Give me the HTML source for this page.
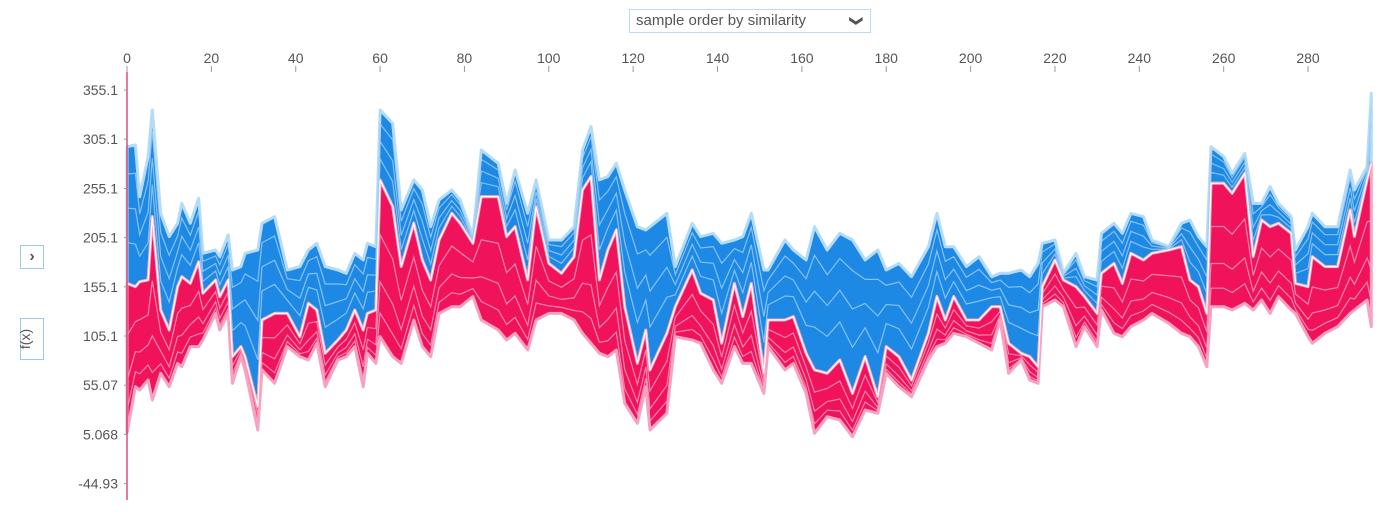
<!DOCTYPE html>
<html><head><meta charset="utf-8">
<style>
body{margin:0;background:#fff;font-family:"Liberation Sans",sans-serif;}
#wrap{position:relative;width:1400px;height:523px;overflow:hidden;}
#dd{position:absolute;left:629px;top:9px;width:242px;height:24px;border:1px solid #b9dcf2;box-sizing:border-box;font-size:15px;color:#555;line-height:22px;padding-left:6px;}
#dd span.ch{position:absolute;right:8px;top:0;font-size:13px;color:#555;transform:rotate(90deg);font-weight:bold;}
#expand{position:absolute;left:20px;top:245px;width:24px;height:24px;border:1px solid #9ecae1;box-sizing:border-box;color:#555;font-size:16px;text-align:center;line-height:22px;font-weight:bold;}
#fx{position:absolute;left:20px;top:318px;width:24px;height:42px;border:1px solid #9ecae1;box-sizing:border-box;}
#fx span{position:absolute;left:-6px;top:12px;transform:rotate(-90deg);font-size:14px;color:#555;}
svg{position:absolute;left:0;top:0;}
</style></head><body>
<div id="wrap">
<div id="dd">sample order by similarity<span class="ch">&#10095;</span></div>
<div id="expand">&#8250;</div>
<div id="fx"><span>f(x)</span></div>
<svg id="chart" width="1400" height="523"></svg>
</div>
<script>
const sampleIdx=[0,2,3,5,6,8,10,12,13,15,17,18,21,22,24,25,27,28,31,32,35,38,41,43,45,47,50,52,54,56,57,59,60,63,65,68,70,72,74,77,79,82,84,88,90,92,95,97,100,103,106,108,110,112,114,116,118,121,123,124,128,130,134,136,139,141,144,146,148,151,152,156,158,161,163,166,169,172,175,178,180,183,186,190,192,194,196,199,202,205,207,209,212,214,216,217,220,222,225,227,230,231,234,236,238,241,243,247,250,252,254,256,257,260,262,265,267,269,271,273,276,277,280,281,284,287,290,291,294,295];
const topVals=[297.5,299.2,246.7,287.4,334.8,229.8,206.1,219.6,239.9,219.6,245.0,189.1,192.5,185.7,207.8,172.2,175.6,189.1,192.5,219.6,226.4,172.2,175.6,192.5,199.3,175.6,172.2,168.8,189.1,182.3,199.3,195.9,334.8,321.3,233.2,263.7,253.5,216.2,243.3,253.5,243.3,206.1,294.1,280.6,239.9,273.8,229.8,263.7,202.7,202.7,216.2,294.1,317.9,263.7,267.1,280.6,253.5,216.2,212.8,216.2,229.8,175.6,219.6,206.1,209.5,199.3,202.7,206.1,229.8,172.2,172.2,202.7,192.5,182.3,216.2,192.5,209.5,202.7,182.3,192.5,172.2,178.9,165.4,195.9,229.8,195.9,195.9,175.6,185.7,165.4,168.8,168.8,172.2,165.4,178.9,199.3,202.7,168.8,189.1,165.4,162,209.5,219.6,209.5,229.8,226.4,202.7,195.9,219.6,223.0,206.1,195.9,297.5,287.4,270.4,290.8,239.9,239.9,256.9,239.9,226.4,192.5,216.2,229.8,216.2,216.2,273.8,253.5,277.2,351.7];
const fxVals=[158.6,155.2,160.3,162,226.4,131.5,111.2,155.2,165.4,158.6,180.6,148.5,162,145.1,162,84.1,94.3,84.1,33.3,121.4,128.1,128.1,104.4,138.3,131.5,87.5,101.0,111.2,131.5,111.2,128.1,131.5,263.7,236.6,175.6,219.6,182.3,162,202.7,229.8,219.6,199.3,246.7,246.7,206.1,216.2,162,236.6,178.9,168.8,185.7,253.5,267.1,162,192.5,212.8,134.9,77.3,111.2,70.6,107.8,134.9,172.2,148.5,141.7,97.7,158.6,124.7,158.6,67.2,121.4,121.4,124.7,87.5,70.6,67.2,80.7,46.8,84.1,43.4,94.3,84.1,60.4,107.8,145.1,121.4,145.1,121.4,121.4,134.9,134.9,97.7,87.5,84.1,73.9,155.2,182.3,162,155.2,145.1,128.1,168.8,178.9,158.6,189.1,182.3,189.1,192.5,195.9,162,155.2,128.1,260.3,260.3,250.1,270.4,185.7,223.0,216.2,219.6,209.5,158.6,155.2,185.7,175.6,175.6,233.2,206.1,263.7,280.6];
const botVals=[6.2,53.6,50.2,60.4,40.1,67.2,53.6,77.3,73.9,94.3,94.3,101.0,128.1,111.2,128.1,57.0,84.1,70.6,9.6,70.6,57.0,94.3,84.1,80.7,97.7,53.6,80.7,84.1,94.3,53.6,87.5,77.3,104.4,84.1,77.3,121.4,94.3,84.1,128.1,134.9,134.9,145.1,121.4,111.2,101.0,107.8,90.9,121.4,128.1,128.1,121.4,107.8,97.7,87.5,84.1,90.9,36.7,16.3,53.6,9.6,26.5,104.4,101.0,97.7,70.6,57.0,94.3,77.3,77.3,46.8,94.3,70.6,77.3,46.8,6.2,23.1,19.7,2.8,29.9,26.5,67.2,53.6,43.4,80.7,94.3,97.7,107.8,104.4,97.7,90.9,121.4,67.2,80.7,60.4,57.0,134.9,141.7,134.9,94.3,114.6,94.3,131.5,107.8,104.4,114.6,121.4,128.1,118.0,107.8,104.4,94.3,73.9,134.9,134.9,131.5,138.3,131.5,141.7,128.1,145.1,131.5,128.1,104.4,97.7,107.8,114.6,128.1,131.5,141.7,114.6];
const xTicks=[0,20,40,60,80,100,120,140,160,180,200,220,240,260,280];
const yTicks=[355.1,305.1,255.1,205.1,155.1,105.1,55.07,5.068,-44.93];

const NS='http://www.w3.org/2000/svg';
const svg=document.getElementById('chart');
const xS=i=>127+i*4.218;
const yS=v=>90+(355.1-v)*49.2/50;
function mk(tag,attrs){const e=document.createElementNS(NS,tag);for(const k in attrs)e.setAttribute(k,attrs[k]);svg.appendChild(e);return e;}
function pts(arr){return arr.map((v,k)=>xS(sampleIdx[k]).toFixed(1)+','+yS(v).toFixed(1));}
function mix(a,b,t){return a.map((v,k)=>v+(b[k]-v)*t);}
let p=mk('polygon',{points:pts(topVals).concat(pts(fxVals).reverse()).join(' '),fill:'#1e88e5',stroke:'#b5dcf7','stroke-width':3,'stroke-linejoin':'round'});


let r=mk('polygon',{points:pts(fxVals).concat(pts(botVals).reverse()).join(' '),fill:'#f0125a',stroke:'#f7a3c0','stroke-width':3,'stroke-linejoin':'round'});


[0.2,0.45,0.7].forEach(t=>{
  const l=mk('polyline',{points:pts(mix(topVals,fxVals,t)).join(' '),fill:'none',stroke:'#9fd0f5','stroke-width':1.2,opacity:0.8});
  
  
});
[0.35,0.65,0.85].forEach(t=>{
  const l=mk('polyline',{points:pts(mix(fxVals,botVals,t)).join(' '),fill:'none',stroke:'#f7a3c0','stroke-width':1.2,opacity:0.8});
  
  
});
let fl=mk('polyline',{points:pts(fxVals).join(' '),fill:'none',stroke:'#ffffff','stroke-width':1.2});


let ya=mk('line',{x1:127,y1:72,x2:127,y2:500,stroke:'#d6336c','stroke-width':1.3});


xTicks.forEach(t=>{
  const tl=mk('line',{x1:xS(t),y1:66,x2:xS(t),y2:72,stroke:'#999'});
  
  
  const tx=mk('text',{x:xS(t),y:63,'text-anchor':'middle','font-size':14,fill:'#555','font-family':'Liberation Sans, sans-serif'});
  tx.textContent=t;
  
  
});
yTicks.forEach(t=>{
  const tl=mk('line',{x1:124,y1:yS(t),x2:127,y2:yS(t),stroke:'#999'});
  
  
  const tx=mk('text',{x:118,y:yS(t)+5,'text-anchor':'end','font-size':14,fill:'#555','font-family':'Liberation Sans, sans-serif'});
  tx.textContent=t;
  
  
});
</script>
</body></html>
